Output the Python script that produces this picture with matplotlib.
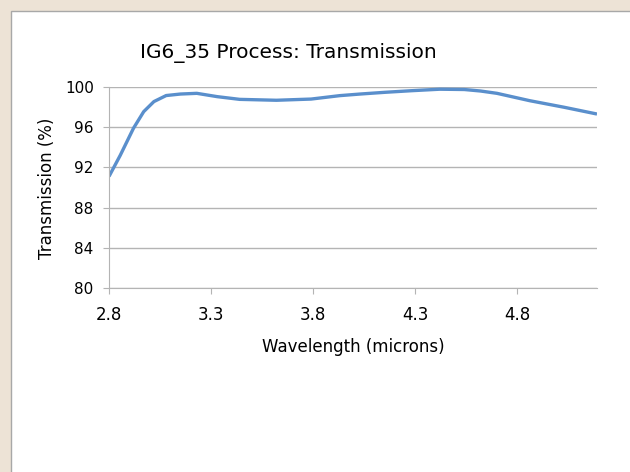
import matplotlib
matplotlib.use('Agg')
import matplotlib.pyplot as plt
from matplotlib.patches import Rectangle

# transmission curve
wavelength = [2.80, 2.855, 2.92, 2.97, 3.02, 3.08, 3.15, 3.23, 3.33, 3.44, 3.62,
              3.79, 3.93, 4.03, 4.15, 4.28, 4.42, 4.54, 4.62, 4.70, 4.86, 5.03, 5.19]
transmission = [91.1, 93.2, 95.9, 97.55, 98.55, 99.15, 99.3, 99.37, 99.04, 98.77, 98.68,
                98.8, 99.14, 99.3, 99.47, 99.63, 99.78, 99.75, 99.6, 99.37, 98.64, 97.98, 97.31]

y_ticks = [80, 84, 88, 92, 96, 100]
x_ticks = [2.8, 3.3, 3.8, 4.3, 4.8]

W, H = 630, 472
fig = plt.figure(figsize=(W / 100, H / 100), dpi=100, facecolor='#ede3d6')
# white sheet with a gray edge, kept under the axes
fig.patches.append(Rectangle((11 / W, -0.01), 1, 1 - 11 / H + 0.01, transform=fig.transFigure,
                             facecolor='white', edgecolor='#a8a8a8', linewidth=1.0,
                             zorder=-5))

ax = fig.add_axes([109 / W, 1 - 288 / H, (597 - 109) / W, (288 - 87) / H])
ax.set_facecolor('none')

ax.plot(wavelength, transmission, color='#5a8fcc', linewidth=2.4,
        solid_capstyle='butt', solid_joinstyle='round')

ax.set_xlim(2.8, 5.19)
ax.set_ylim(80, 100)
ax.set_xticks(x_ticks)
ax.set_xticklabels([f'{v:.1f}' for v in x_ticks])
ax.set_yticks(y_ticks)
ax.grid(axis='y', color='#b4b4b4', linewidth=1.0)
ax.set_axisbelow(True)
for s in ['top', 'right']:
    ax.spines[s].set_visible(False)
for s in ['left', 'bottom']:
    ax.spines[s].set_color('#b4b4b4')
ax.tick_params(colors='#b4b4b4', labelcolor='black', length=4)
ax.tick_params(axis='x', labelsize=12, pad=9)
ax.tick_params(axis='y', labelsize=11, pad=7)

fig.text(288 / W, 1 - 53 / H, 'IG6_35 Process: Transmission', fontsize=14.5,
         ha='center', va='center')
fig.text(47 / W, 1 - 188 / H, 'Transmission (%)', fontsize=12, rotation=90,
         ha='center', va='center')
fig.text(353 / W, 1 - 347 / H, 'Wavelength (microns)', fontsize=12,
         ha='center', va='center')

fig.savefig('out.png', dpi=100, facecolor=fig.get_facecolor())
